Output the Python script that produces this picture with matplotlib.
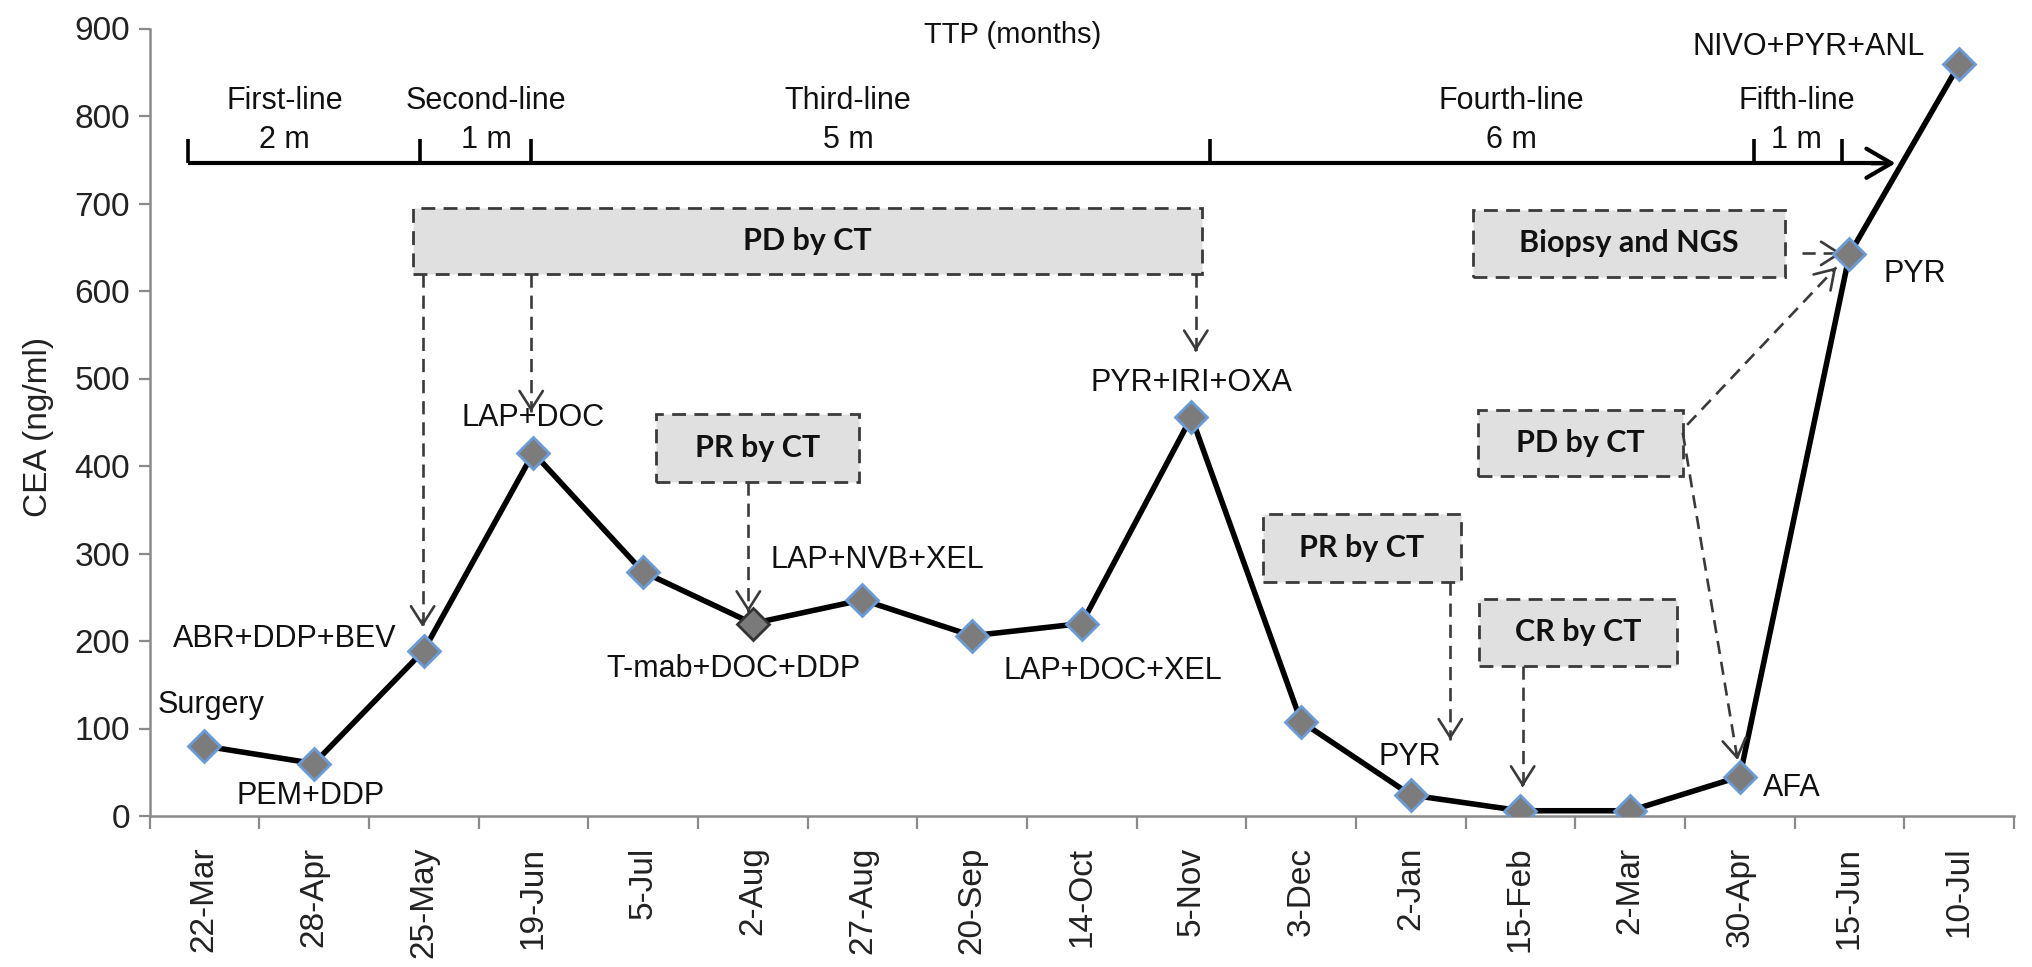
import matplotlib
matplotlib.use("Agg")
import matplotlib.pyplot as plt
from matplotlib.patches import Rectangle, ArrowStyle

# ---------------- data ----------------
dates = ["22-Mar", "28-Apr", "25-May", "19-Jun", "5-Jul", "2-Aug", "27-Aug", "20-Sep",
         "14-Oct", "5-Nov", "3-Dec", "2-Jan", "15-Feb", "2-Mar", "30-Apr", "15-Jun", "10-Jul"]
cea = [80, 60, 189, 415, 279, 220, 247, 206, 220, 456, 108, 24, 6, 6, 45, 642, 859]

point_labels = ["Surgery", "PEM+DDP", "ABR+DDP+BEV", "LAP+DOC", "T-mab+DOC+DDP",
                "LAP+NVB+XEL", "LAP+DOC+XEL", "PYR+IRI+OXA", "PYR", "AFA", "PYR",
                "NIVO+PYR+ANL"]
line_names = ["First-line", "Second-line", "Third-line", "Fourth-line", "Fifth-line"]
line_months = ["2 m", "1 m", "5 m", "6 m", "1 m"]
box_texts = ["PD by CT", "PR by CT", "PR by CT", "CR by CT", "PD by CT", "Biopsy and NGS"]
yticks = [0, 100, 200, 300, 400, 500, 600, 700, 800, 900]

# ---------------- layout / style ----------------
W, H = 2032, 967
fig = plt.figure(figsize=(W / 100, H / 100), dpi=100)
ax = fig.add_axes([149.5 / W, 1 - 816 / H, (2014 - 149.5) / W, (816 - 28.5) / H])

REG = ["Liberation Sans", "DejaVu Sans"]
BOLD = ["Lato", "DejaVu Sans"]
GRAY = "#8a8a8a"
DARK = "#3a3a3a"
BOXFILL = "#e0e0e0"

n = len(dates)
xs = list(range(n))
ax.set_xlim(-0.5, n - 0.5)
ax.set_ylim(0, 900)

# data line + markers
ax.plot(xs, cea, color="black", lw=4.0, zorder=4, solid_joinstyle="miter")
special = 5  # darker diamond at 2-Aug
mx = [x for i, x in enumerate(xs) if i != special]
my = [v for i, v in enumerate(cea) if i != special]
ax.plot(mx, my, ls="none", marker="D", ms=16, mfc="#7c7c7c", mec="#6b9bd6",
        mew=2.0, zorder=6)
ax.plot([xs[special]], [cea[special]], ls="none", marker="D", ms=16, mfc="#7a7a7a",
        mec="#333333", mew=2.0, zorder=6)

# spines and ticks
for s in ["top", "right"]:
    ax.spines[s].set_visible(False)
for s in ["left", "bottom"]:
    ax.spines[s].set_color(GRAY)
    ax.spines[s].set_linewidth(1.8)
ax.set_yticks(yticks)
ax.set_yticklabels([str(v) for v in yticks], fontsize=24, family=REG, color="#222222")
ax.tick_params(axis="y", direction="out", length=8, width=1.6, color=GRAY, pad=6)
ax.set_xticks(xs)
ax.set_xticklabels(dates, rotation=90, fontsize=24, family=REG, color="#222222")
ax.set_xticks([x - 0.5 for x in range(n + 1)], minor=True)
ax.tick_params(axis="x", which="major", length=0, pad=22)
ax.tick_params(axis="x", which="minor", direction="out", length=9, width=1.6, color=GRAY)
ax.set_ylabel("CEA (ng/ml)", fontsize=24, family=REG, color="#222222")
ax.yaxis.set_label_coords(-(149.5 - 54) / (2014 - 149.5), (816 - 427) / (816 - 28.5))

# ---------------- TTP timeline ----------------
TL_Y = 746
tl_ticks = [-0.15, 1.97, 2.98, 9.17, 14.13, 14.93]
ax.plot([tl_ticks[0], 15.3], [TL_Y, TL_Y], color="black", lw=3.0, zorder=3,
        solid_capstyle="butt")
ax.annotate("", xy=(15.42, TL_Y), xytext=(15.2, TL_Y),
            arrowprops=dict(arrowstyle=ArrowStyle("->", head_length=0.6, head_width=0.35),
                            lw=3.0, color="black", mutation_scale=30,
                            shrinkA=0, shrinkB=0), zorder=3)
for t in tl_ticks:
    ax.plot([t, t], [TL_Y, TL_Y + 28], color="black", lw=2.6, zorder=3,
            solid_capstyle="butt")
name_x = [0.73, 2.57, 5.87, 11.92, 14.52]
for nm, mo, x in zip(line_names, line_months, name_x):
    ax.text(x, 817, nm, ha="center", va="center", fontsize=22, family=REG, color="#111111")
    ax.text(x, 773, mo, ha="center", va="center", fontsize=22, family=REG, color="#111111")
ax.text(7.37, 893, "TTP (months)", ha="center", va="center", fontsize=21, family=REG,
        color="#111111")

# ---------------- point labels ----------------
lab_pos = [(0.06, 127), (0.97, 23), (0.73, 202), (3.0, 455), (4.82, 168),
           (6.14, 292), (8.28, 166), (9.0, 495), (10.99, 67), (14.47, 32),
           (15.6, 619), (14.63, 879)]
for txt, (x, y) in zip(point_labels, lab_pos):
    ax.text(x, y, txt, ha="center", va="center", fontsize=22, family=REG,
            color="#111111", zorder=7)

# ---------------- dashed boxes ----------------
box_geom = [(1.90, 619, 9.10, 695), (4.12, 382, 5.97, 460), (9.65, 267, 11.46, 345),
            (11.62, 172, 13.43, 248), (11.61, 389, 13.48, 464), (11.57, 616, 14.41, 693)]
DASH = (0, (5, 3))
for txt, (x0, y0, x1, y1) in zip(box_texts, box_geom):
    ax.add_patch(Rectangle((x0, y0), x1 - x0, y1 - y0, facecolor=BOXFILL,
                           edgecolor=DARK, lw=2.0, ls=DASH, zorder=2))
    ax.text((x0 + x1) / 2, (y0 + y1) / 2, txt, ha="center", va="center",
            fontsize=22, family=BOLD, fontweight="bold", color="#111111", zorder=3)

# ---------------- dashed arrows ----------------
HEAD = ArrowStyle("->", head_length=0.55, head_width=0.35)


def darrow(x0, y0, x1, y1):
    ax.plot([x0, x1], [y0, y1], color=DARK, lw=1.9, ls=DASH, zorder=5)
    dx, dy = x1 - x0, y1 - y0
    ax.annotate("", xy=(x1, y1), xytext=(x1 - dx * 0.02, y1 - dy * 0.02),
                arrowprops=dict(arrowstyle=HEAD, lw=1.9, color=DARK, mutation_scale=24,
                                shrinkA=0, shrinkB=0), zorder=5)


arrows = [(1.99, 619, 1.99, 216), (2.98, 619, 2.98, 462), (9.04, 619, 9.04, 531),
          (4.96, 382, 4.96, 233), (11.36, 267, 11.36, 87), (12.02, 172, 12.02, 33),
          (13.48, 438, 13.98, 64), (13.52, 447, 14.88, 627), (14.57, 643, 14.93, 643)]
for a in arrows:
    darrow(*a)

fig.savefig("out.png", dpi=100)
